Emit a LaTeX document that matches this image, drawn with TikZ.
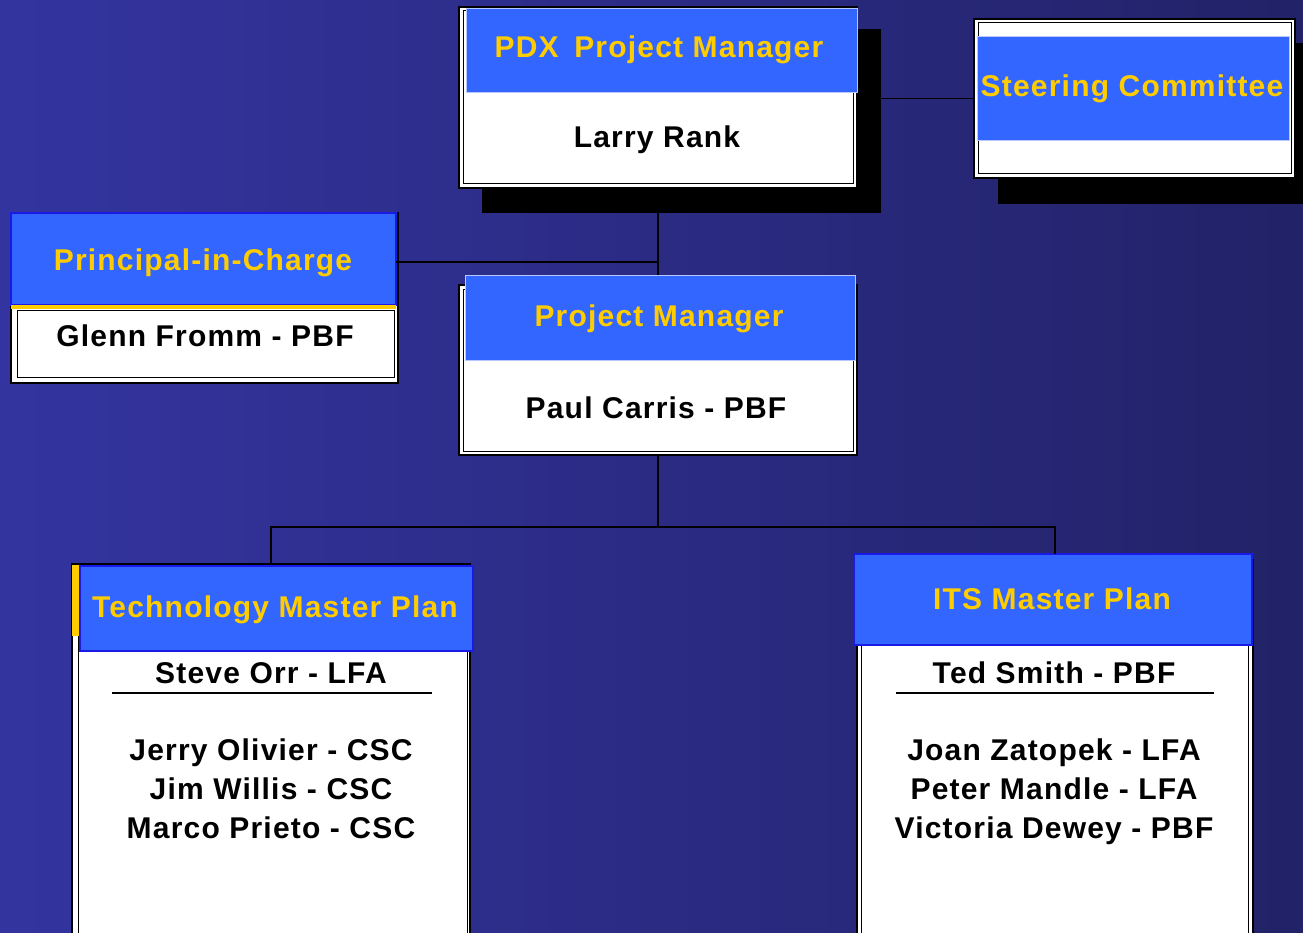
\documentclass[tikz,border=0pt]{standalone}
\usepackage{fontspec}
\usepackage{xcolor}
\usepackage{tikz}
\usetikzlibrary{positioning}
\newfontfamily\orgfont{Liberation Sans}[LetterSpace=4]
\definecolor{bgleft}{HTML}{3434A0}
\definecolor{bgright}{HTML}{222268}
\definecolor{headblue}{HTML}{3366FF}
\definecolor{headyellow}{HTML}{FFCC00}
\definecolor{edgeblue}{HTML}{1A1AE6}
\definecolor{paleedge}{HTML}{B8C8FF}

\begin{document}
\begin{tikzpicture}[x=1pt, y=-1pt,
  every node/.style={inner sep=0pt, outer sep=0pt, anchor=north west},
  shadowbox/.style={fill=black},
  cardbox/.style={fill=white, draw=black, line width=1.2pt},
  innerline/.style={draw=black, line width=1pt},
  headbar/.style={fill=headblue, draw=paleedge, line width=0.8pt},
  headbarb/.style={fill=headblue, draw=edgeblue, line width=1.2pt},
  strip/.style={fill=headyellow},
  headtext/.style={anchor=base, text=headyellow, font=\orgfont\bfseries\fontsize{30}{36}\selectfont},
  nametext/.style={anchor=base, text=black, font=\orgfont\bfseries\fontsize{30}{36}\selectfont},
  link/.style={draw=black, line width=1.2pt}]
\useasboundingbox (0,0) rectangle (1303,933);
\clip (0,0) rectangle (1303,933);
\shade[left color=bgleft, right color=bgright] (0,0) rectangle (1303,933);

% PDX box
\node[shadowbox, minimum width=399pt, minimum height=184pt] (pdxshadow) at (482,29) {};
\node[cardbox, minimum width=398pt, minimum height=181pt] (pdxbody) at (459,7) {};
\node[innerline, minimum width=390pt, minimum height=173pt] (pdxinner) at (463,11) {};
\node[headbar, minimum width=391pt, minimum height=84pt] (pdxhead) at (466,8) {};
\node[headtext] (pdxtitle) at (659,58) {PDX\hspace{6pt} Project Manager};
\node[nametext] (pdxname) at (657,148) {Larry Rank};

% Steering box
\node[shadowbox, minimum width=305pt, minimum height=161pt] (steershadow) at (998,43) {};
\node[cardbox, minimum width=321pt, minimum height=159pt] (steerbody) at (974,19) {};
\node[innerline, minimum width=313pt, minimum height=151pt] (steerinner) at (978,23) {};
\node[headbar, minimum width=312pt, minimum height=104pt] (steerhead) at (977,36) {};
\node[headtext] (steertitle) at (1132,97) {Steering Committee};

% Principal box
\node[cardbox, minimum width=387pt, minimum height=170pt] (picbody) at (11,213) {};
\node[innerline, minimum width=377pt, minimum height=67pt] (picinner) at (17,310) {};
\node[headbarb, minimum width=385pt, minimum height=92pt] (pichead) at (11,213) {};
\node[strip, minimum width=385pt, minimum height=4pt] (picstrip) at (11,305) {};
\node[headtext] (pictitle) at (203,270) {Principal-in-Charge};
\node[nametext] (picname) at (205,346) {Glenn Fromm - PBF};

% Project manager box
\node[cardbox, minimum width=398pt, minimum height=170pt] (pmbody) at (459,285) {};
\node[innerline, minimum width=390pt, minimum height=162pt] (pminner) at (463,289) {};
\node[headbar, minimum width=390pt, minimum height=85pt] (pmhead) at (465,275) {};
\node[headtext] (pmtitle) at (659,326) {Project Manager};
\node[nametext] (pmname) at (656,418) {Paul Carris - PBF};

% Technology box
\node[cardbox, minimum width=398pt, minimum height=390pt] (techbody) at (72,564) {};
\node[innerline, minimum width=389pt, minimum height=390pt] (techinner) at (78,570) {};
\node[strip, minimum width=8pt, minimum height=71pt] (techstrip) at (72,565) {};
\node[headbarb, minimum width=393pt, minimum height=85pt] (techhead) at (80,566) {};
\node[headtext] (techtitle) at (275,617) {Technology Master Plan};
\node[nametext] (techlead) at (271,683) {Steve Orr - LFA};
\draw[line width=1.2pt] (112,693) -- (432,693);
\node[nametext] (techone) at (271,760) {Jerry Olivier - CSC};
\node[nametext] (techtwo) at (271,799) {Jim Willis - CSC};
\node[nametext] (techthree) at (271,838) {Marco Prieto - CSC};

% ITS box
\node[cardbox, minimum width=396pt, minimum height=390pt] (itsbody) at (857,560) {};
\node[innerline, minimum width=387pt, minimum height=390pt] (itsinner) at (861,565) {};
\node[headbarb, minimum width=398pt, minimum height=91pt] (itshead) at (854,554) {};
\node[headtext] (itstitle) at (1052,609) {ITS Master Plan};
\node[nametext] (itslead) at (1054,683) {Ted Smith - PBF};
\draw[line width=1.2pt] (896,693) -- (1214,693);
\node[nametext] (itsone) at (1054,760) {Joan Zatopek - LFA};
\node[nametext] (itstwo) at (1054,799) {Peter Mandle - LFA};
\node[nametext] (itsthree) at (1054,838) {Victoria Dewey - PBF};

% Lines
\coordinate (bus) at (658,527);
\coordinate (picjoin) at (658,262);
\draw[link] (steerbody.west) -- (pdxbody.east |- steerbody.west);
\draw[link] (pdxbody.south) -- (pdxbody.south |- pmhead.north);
\draw[link] (pichead.east |- picjoin) -- (picjoin);
\draw[link] (pmbody.south) -- (bus);
\draw[link] (techbody.north) |- (bus) -| (itsbody.north |- itshead.north);
\end{tikzpicture}
\end{document}
